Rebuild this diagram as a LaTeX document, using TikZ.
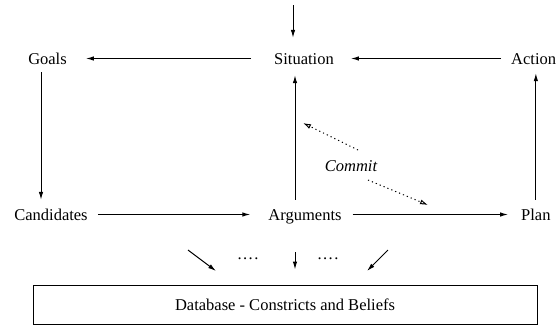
\documentclass[tikz,border=0pt]{standalone}
\usepackage{fontspec}
\setmainfont{Liberation Serif}
\usetikzlibrary{calc, arrows.meta}

\newcommand{\fourdots}{.\kern1.5pt.\kern1.5pt.\kern1.5pt.}

\tikzset{
  lbl/.style={inner sep=0pt, text height=11pt, text depth=0pt, font=\fontsize{16.5}{19}\selectfont},
  arr/.style={-{Latex[length=8pt, width=4.5pt]}, line width=1pt},
  commitarr/.style={-{Latex[open, length=8pt, width=5pt]}, line width=1pt, dash pattern=on 1.2pt off 3pt},
}

\begin{document}
\begin{tikzpicture}[x=1pt, y=-1pt]
  \useasboundingbox (0,0) rectangle (558,327);

  % upper row
  \node[lbl, anchor=base] (goals) at (47.5,64) {Goals};
  \node[lbl, anchor=base] (situation) at (304,64) {Situation};
  \node[lbl, anchor=base west] (action) at (511,64) {Action};

  % lower row
  \node[lbl, anchor=base] (cand) at (51,220) {Candidates};
  \node[lbl, anchor=base] (args) at (305,220) {Arguments};
  \node[lbl, anchor=base west] (plan) at (521,220) {Plan};

  \node[lbl, font=\fontsize{16.5}{19}\selectfont\itshape, anchor=base] (commit) at (351,171) {Commit};

  \node[draw, line width=1pt, minimum width=504pt, minimum height=39pt, inner sep=0pt,
        font=\fontsize{16.5}{19}\selectfont] (db) at (285,304.5) {Database - Constricts and Beliefs};
  \node[lbl, anchor=base] (dotsl) at (248,259) {\fourdots};
  \node[lbl, anchor=base] (dotsr) at (328,259) {\fourdots};

  \coordinate (in) at (293,5);
  \coordinate (cA) at (303,123);
  \coordinate (cB) at (358,150);
  \coordinate (cC) at (368,180);
  \coordinate (cD) at (428,205);
  \coordinate (dlA) at (188,250);
  \coordinate (dlB) at (216,271);
  \coordinate (drA) at (388,250);
  \coordinate (drB) at (367,271);

  % main loop
  \draw[arr, shorten >=15pt] (in) -- (in |- situation.north);
  \draw[arr, shorten <=23pt, shorten >=19pt] (situation.west) -- (goals.east);
  \draw[arr, shorten <=10pt, shorten >=17pt] (action.west) -- (situation.east);
  \draw[arr, shorten <=8pt, shorten >=9pt] ([xshift=-6.5pt]goals.south) -- ([xshift=-6.5pt]goals.south |- cand.north);
  \draw[arr, shorten <=10pt, shorten >=18pt] (cand.east) -- (args.west);
  \draw[arr, shorten <=11pt, shorten >=13pt] (args.east) -- (plan.west);
  \draw[arr, shorten <=9pt, shorten >=11pt] ([xshift=-10pt]args.north) -- ([xshift=-10pt]args.north |- situation.south);
  \draw[arr, shorten <=9pt, shorten >=9pt] (plan.north) -- (plan.north |- action.south);

  % commit
  \draw[commitarr] (cB) -- (cA);
  \draw[commitarr] (cC) -- (cD);

  % into the database
  \draw[arr] (dlA) -- (dlB);
  \draw[arr, shorten <=32pt, shorten >=15pt] ([xshift=-10pt]args.south) -- ([xshift=-10pt]args.south |- db.north);
  \draw[arr] (drA) -- (drB);
\end{tikzpicture}
\end{document}
